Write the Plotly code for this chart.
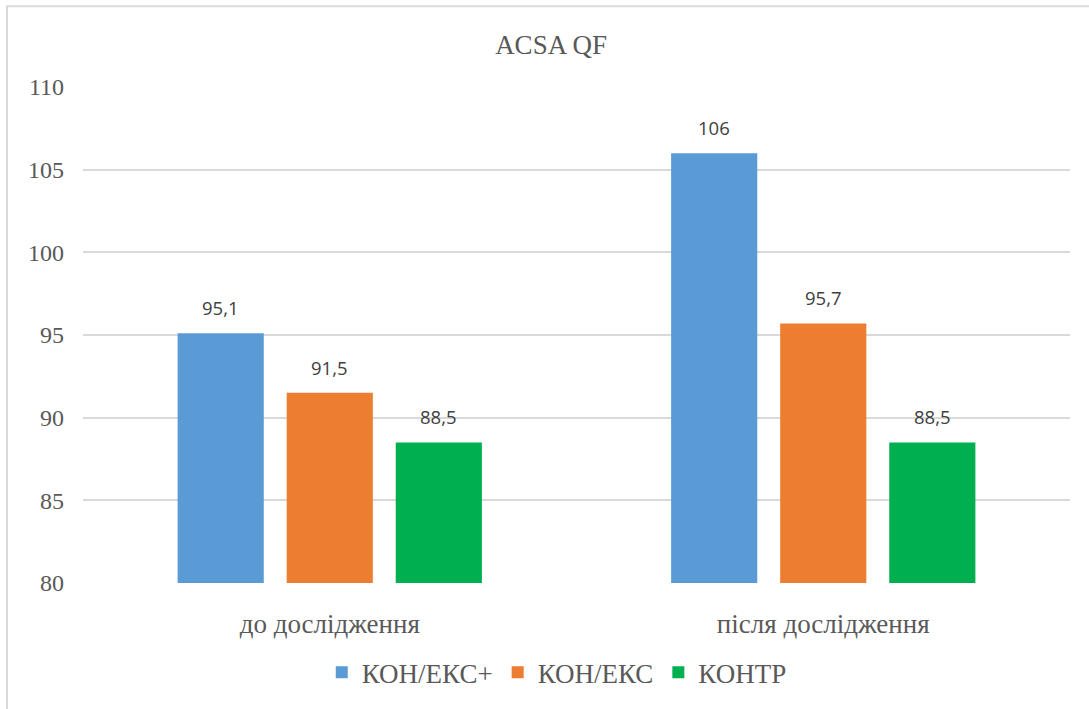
import plotly.graph_objects as go

# Data
categories = ["до дослідження", "після дослідження"]
series_names = ["КОН/ЕКС+", "КОН/ЕКС", "КОНТР"]
kon_eks_plus = [95.1, 106.0]
kon_eks = [91.5, 95.7]
kontr = [88.5, 88.5]
value_labels = [["95,1", "106"], ["91,5", "95,7"], ["88,5", "88,5"]]
y_ticks = [80, 85, 90, 95, 100, 105, 110]

colors = ["#5B9BD5", "#ED7D31", "#00B050"]
series_values = [kon_eks_plus, kon_eks, kontr]

SERIF = "Liberation Serif"
SANS = "Open Sans"
BAR_GAP = 0.337
GROUP_GAP = 0.21

fig = go.Figure()
for name, vals, col in zip(series_names, series_values, colors):
    fig.add_trace(go.Bar(
        x=categories, y=vals, name=name,
        marker=dict(color=col, line=dict(width=0)),
    ))

# value labels above each bar, placed at the centre of its slot in the group
slot = (1 - BAR_GAP) / len(series_names)
annotations = []
for s, (vals, labels) in enumerate(zip(series_values, value_labels)):
    offset = (s - (len(series_names) - 1) / 2) * slot
    for c, (v, lab) in enumerate(zip(vals, labels)):
        annotations.append(dict(
            x=c + offset, y=v, xref="x", yref="y", text=lab,
            showarrow=False, yanchor="bottom", yshift=11,
            font=dict(family=SANS, size=18.5, color="#404040"),
        ))

fig.update_layout(
    width=1089, height=709,
    margin=dict(l=83, r=19, t=87, b=124),
    paper_bgcolor="white", plot_bgcolor="white",
    barmode="group", bargap=BAR_GAP, bargroupgap=GROUP_GAP,
    font=dict(family=SERIF, color="#595959"),
    title=dict(text="ACSA QF", x=0.506, xref="container", xanchor="center",
               y=1 - 45 / 709, yref="container", yanchor="middle",
               font=dict(family=SERIF, size=27, color="#595959")),
    xaxis=dict(showgrid=False, showline=False, zeroline=False, ticks="",
               ticklabelstandoff=22,
               tickfont=dict(family=SERIF, size=27, color="#595959")),
    yaxis=dict(range=[80, 110], tickvals=y_ticks, showgrid=True,
               gridcolor="#D9D9D9", gridwidth=1.5, zeroline=False,
               showline=False, ticks="", ticklabelstandoff=18,
               tickfont=dict(family=SERIF, size=24, color="#595959")),
    legend=dict(orientation="h", x=0.48, xanchor="center", y=-0.181,
                yanchor="middle", font=dict(family=SERIF, size=27, color="#595959"),
                itemclick=False, bgcolor="rgba(0,0,0,0)"),
    annotations=annotations,
    shapes=[dict(type="rect", xref="paper", yref="paper",
                 x0=-0.077, x1=1.1, y0=-0.3, y1=1.1627,
                 line=dict(color="#D9D9D9", width=2), layer="below")],
)

fig.write_html("out.html")
